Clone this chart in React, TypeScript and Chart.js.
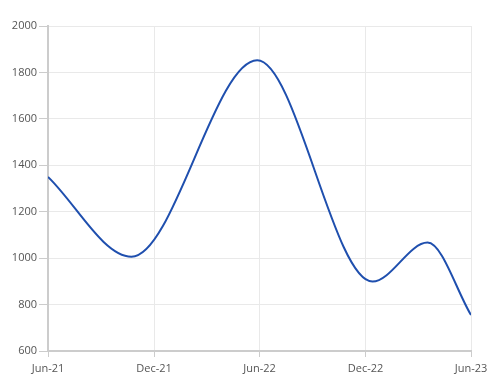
import React, { useEffect, useRef } from "react";
import { Chart, registerables } from "chart.js";

Chart.register(...registerables);

const dates = ["2021-06-01", "2021-10-23", "2022-05-28", "2022-12-13", "2023-03-18", "2023-06-01"];
const values = [1350, 1006, 1852, 899, 1067, 755];
const tickDates = ["2021-06-01", "2021-12-01", "2022-06-01", "2022-12-01", "2023-06-01"];
const xTickLabels = ["Jun-21", "Dec-21", "Jun-22", "Dec-22", "Jun-23"];
const yMin = 600;
const yMax = 2000;
const yStep = 200;

const DAY = 86400000;
const toDay = (s: string) => Date.parse(s + "T00:00:00Z") / DAY;
const origin = toDay(dates[0]);
const dayOf = (s: string) => toDay(s) - origin;

export default function App() {
  const ref = useRef<HTMLCanvasElement | null>(null);
  useEffect(() => {
    if (!ref.current) return;
    const tickVals = tickDates.map(dayOf);
    const font = { family: "'Open Sans', sans-serif", size: 11 };
    const chart = new Chart(ref.current, {
      type: "line",
      data: {
        datasets: [
          {
            data: dates.map((d, i) => ({ x: dayOf(d), y: values[i] })),
            borderColor: "#1f4fae",
            borderWidth: 2,
            pointRadius: 0,
            cubicInterpolationMode: "monotone",
            fill: false,
          },
        ],
      },
      options: {
        animation: false,
        responsive: false,
        events: [],
        layout: { padding: { left: 0, right: 29, top: 26, bottom: 0 } },
        plugins: { legend: { display: false }, tooltip: { enabled: false } },
        scales: {
          x: {
            type: "linear",
            min: tickVals[0],
            max: tickVals[tickVals.length - 1],
            afterBuildTicks: (s: any) => {
              s.ticks = tickVals.map((v) => ({ value: v }));
            },
            ticks: {
              autoSkip: false,
              maxRotation: 0,
              padding: 5,
              color: "#555555",
              font,
              callback: (v: any) => {
                const i = tickVals.indexOf(Number(v));
                return i >= 0 ? xTickLabels[i] : "";
              },
            },
            grid: { color: "#e9e9e9", tickColor: "#cccccc", tickLength: 6, lineWidth: 1 },
            border: { color: "#cccccc", width: 2 },
            afterFit: (s: any) => {
              s.height = 37;
            },
          },
          y: {
            min: yMin,
            max: yMax,
            ticks: {
              stepSize: yStep,
              padding: 2,
              color: "#555555",
              font,
              callback: (v: any) => String(v),
            },
            grid: { color: "#e9e9e9", tickColor: "#cccccc", tickLength: 9, lineWidth: 1 },
            border: { color: "#cccccc", width: 2 },
            afterFit: (s: any) => {
              s.width = 48;
            },
          },
        },
      },
    });
    return () => chart.destroy();
  }, []);
  return (
    <div style={{ position: "fixed", left: 0, top: 0, width: 500, height: 388, background: "#fff" }}>
      <canvas ref={ref} width={500} height={388} style={{ width: 500, height: 388, display: "block" }} />
    </div>
  );
}
